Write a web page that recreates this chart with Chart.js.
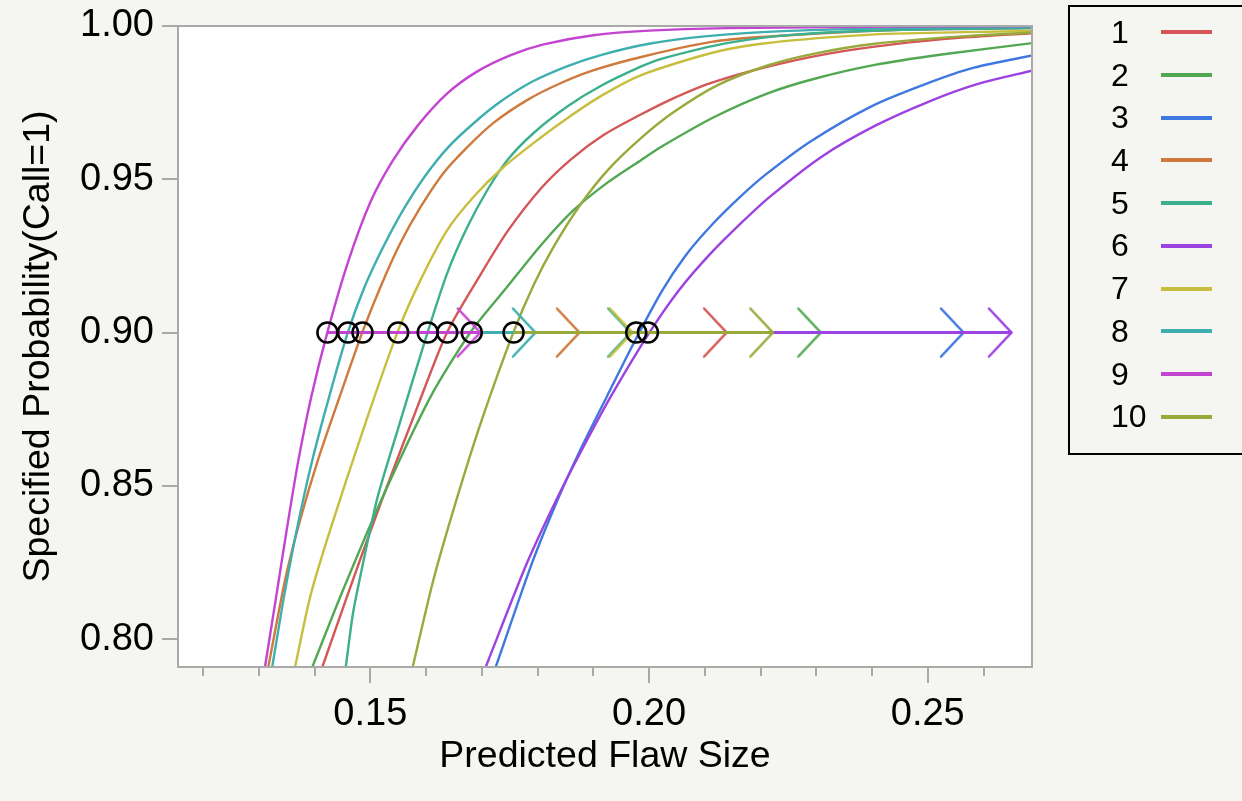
<!DOCTYPE html>
<html>
  <head>
    <title>Specified Probability vs Predicted Flaw Size</title>
    <script src="https://cdn.jsdelivr.net/npm/chart.js@4"></script>
    <style>
      body {
        margin: 0;
        background: #f5f5f1;
        overflow: hidden;
        font-family: "Liberation Sans", Arial, sans-serif;
      }
      #wrap { position: relative; width: 1242px; height: 801px; overflow: hidden; }
      #legend {
        position: absolute; left: 1068px; top: 5px;
        width: 300px; height: 442px; padding-top: 4px;
        border: 2px solid #000;
      }
      .row { position: relative; height: 42.7px; }
      .row span {
        position: absolute; left: 41px; top: 0;
        font-size: 32px; line-height: 42.7px; color: #000;
      }
      .row i { position: absolute; left: 91px; top: 19.4px; width: 51px; height: 4px; }
    </style>
  </head>
  <body>
    <div id="wrap">
      <canvas id="chart" width="1242" height="801"></canvas>
      <div id="legend"></div>
    </div>

    <script>
      // series labels
      var seriesNames = ["1", "2", "3", "4", "5", "6", "7", "8", "9", "10"];

      // probability curves (flaw size -> probability)
      var flaw1 = [0.1414, 0.1441, 0.1477, 0.1523, 0.1585, 0.1638, 0.1698, 0.1746, 0.1806, 0.1860, 0.1919, 0.1986, 0.2034, 0.2106, 0.2201, 0.2322, 0.2441, 0.2561, 0.2691];
      var prob1 = [0.7909, 0.8050, 0.8235, 0.8465, 0.8760, 0.9002, 0.9190, 0.9330, 0.9470, 0.9565, 0.9645, 0.9712, 0.9756, 0.9811, 0.9862, 0.9910, 0.9941, 0.9962, 0.9977];

      var flaw2 = [0.1396, 0.1451, 0.1522, 0.1608, 0.1680, 0.1746, 0.1806, 0.1865, 0.1926, 0.1986, 0.2022, 0.2117, 0.2214, 0.2297, 0.2405, 0.2525, 0.2691];
      var prob2 = [0.7909, 0.8160, 0.8463, 0.8790, 0.9002, 0.9150, 0.9285, 0.9400, 0.9490, 0.9563, 0.9606, 0.9703, 0.9781, 0.9828, 0.9873, 0.9907, 0.9945];

      var flaw3 = [0.1725, 0.1790, 0.1838, 0.1879, 0.1924, 0.1969, 0.2023, 0.2065, 0.2112, 0.2162, 0.2209, 0.2291, 0.2399, 0.2498, 0.2583, 0.2691];
      var prob3 = [0.7909, 0.8248, 0.8463, 0.8626, 0.8790, 0.8953, 0.9135, 0.9250, 0.9350, 0.9440, 0.9515, 0.9625, 0.9738, 0.9812, 0.9864, 0.9905];

      var flaw4 = [0.1317, 0.1347, 0.1374, 0.1406, 0.1446, 0.1486, 0.1518, 0.1554, 0.1590, 0.1631, 0.1674, 0.1721, 0.1782, 0.1842, 0.1901, 0.1986, 0.2112, 0.2201, 0.2441, 0.2691];
      var prob4 = [0.7909, 0.8192, 0.8388, 0.8584, 0.8796, 0.9002, 0.9148, 0.9292, 0.9409, 0.9520, 0.9605, 0.9684, 0.9759, 0.9814, 0.9856, 0.9899, 0.9948, 0.9964, 0.9987, 0.9993];

      var flaw5 = [0.1456, 0.1469, 0.1487, 0.1513, 0.1549, 0.1603, 0.1638, 0.1674, 0.1710, 0.1746, 0.1793, 0.1854, 0.1914, 0.1986, 0.2022, 0.2142, 0.2261, 0.2441, 0.2691];
      var prob5 = [0.7909, 0.8085, 0.8248, 0.8463, 0.8682, 0.9002, 0.9194, 0.9344, 0.9465, 0.9563, 0.9651, 0.9738, 0.9805, 0.9868, 0.9893, 0.9945, 0.9972, 0.9987, 0.9993];

      var flaw6 = [0.1707, 0.1781, 0.1836, 0.1882, 0.1931, 0.2000, 0.2054, 0.2111, 0.2165, 0.2216, 0.2309, 0.2405, 0.2500, 0.2590, 0.2691];
      var prob6 = [0.7909, 0.8248, 0.8463, 0.8626, 0.8790, 0.8998, 0.9139, 0.9259, 0.9357, 0.9442, 0.9573, 0.9674, 0.9752, 0.9811, 0.9856];

      var flaw7 = [0.1365, 0.1392, 0.1428, 0.1487, 0.1549, 0.1590, 0.1638, 0.1685, 0.1739, 0.1800, 0.1854, 0.1914, 0.1986, 0.2112, 0.2201, 0.2322, 0.2441, 0.2691];
      var prob7 = [0.7909, 0.8137, 0.8356, 0.8682, 0.9002, 0.9171, 0.9334, 0.9442, 0.9540, 0.9628, 0.9700, 0.9772, 0.9840, 0.9912, 0.9942, 0.9963, 0.9975, 0.9984];

      var flaw8 = [0.1324, 0.1344, 0.1368, 0.1396, 0.1427, 0.1460, 0.1490, 0.1522, 0.1559, 0.1598, 0.1640, 0.1690, 0.1735, 0.1790, 0.1855, 0.1915, 0.2000, 0.2100, 0.2250, 0.2450, 0.2691];
      var prob8 = [0.7909, 0.8127, 0.8356, 0.8584, 0.8796, 0.9002, 0.9150, 0.9275, 0.9400, 0.9510, 0.9605, 0.9690, 0.9755, 0.9818, 0.9870, 0.9906, 0.9942, 0.9966, 0.9984, 0.9993, 0.9997];

      var flaw9 = [0.1311, 0.1331, 0.1350, 0.1370, 0.1394, 0.1424, 0.1460, 0.1500, 0.1540, 0.1585, 0.1638, 0.1692, 0.1752, 0.1811, 0.1900, 0.2000, 0.2140, 0.2440, 0.2691];
      var prob9 = [0.7909, 0.8137, 0.8356, 0.8574, 0.8790, 0.9008, 0.9230, 0.9425, 0.9560, 0.9675, 0.9780, 0.9852, 0.9905, 0.9940, 0.9970, 0.9985, 0.9993, 0.9998, 1.0000];

      var flaw10 = [0.1576, 0.1613, 0.1656, 0.1700, 0.1757, 0.1793, 0.1829, 0.1878, 0.1926, 0.1986, 0.2045, 0.2124, 0.2214, 0.2297, 0.2405, 0.2561, 0.2691];
      var prob10 = [0.7909, 0.8192, 0.8463, 0.8715, 0.9002, 0.9155, 0.9280, 0.9420, 0.9530, 0.9635, 0.9720, 0.9808, 0.9872, 0.9910, 0.9942, 0.9966, 0.9979];

      // inverse prediction at the specified probability: estimate (circle) and upper limit (arrow)
      var probLevel = 0.9;
      var estimate90 = [0.1638, 0.1682, 0.1977, 0.1486, 0.1603, 0.1998, 0.1550, 0.1460, 0.1423, 0.1757];
      var upper90 = [0.2140, 0.2309, 0.2565, 0.1876, 0.1968, 0.2651, 0.1971, 0.1797, 0.1698, 0.2223];

      // axis ticks
      var xMajorTicks = [0.15, 0.2, 0.25];
      var xMinorTicks = [0.12, 0.13, 0.14, 0.16, 0.17, 0.18, 0.19, 0.21, 0.22, 0.23, 0.24, 0.26];
      var yTicks = [0.8, 0.85, 0.9, 0.95, 1.0];

      var colors = ["#d45656", "#52a852", "#3f78e0", "#cf7a3c", "#3cb08c", "#9c42e0",
                    "#c8be3e", "#3eaeae", "#c444d2", "#98aa3c"];

      var flaws = [flaw1, flaw2, flaw3, flaw4, flaw5, flaw6, flaw7, flaw8, flaw9, flaw10];
      var probs = [prob1, prob2, prob3, prob4, prob5, prob6, prob7, prob8, prob9, prob10];

      Chart.defaults.font.family = '"Liberation Sans", Arial, sans-serif';
      Chart.defaults.color = "#000";

      // ">" head drawn on a small canvas, tip in the middle
      function arrowHead(color) {
        var c = document.createElement("canvas");
        c.width = 52;
        c.height = 52;
        var g = c.getContext("2d");
        g.strokeStyle = color;
        g.lineWidth = 2.5;
        g.lineCap = "round";
        g.beginPath();
        g.moveTo(3, 2);
        g.lineTo(25.5, 26);
        g.lineTo(3, 50);
        g.stroke();
        return c;
      }

      var datasets = [];
      for (var k = 0; k < 10; k++) {
        datasets.push({
          label: seriesNames[k],
          data: flaws[k].map(function (x, i) { return { x: x, y: probs[this][i] }; }, k),
          showLine: true,
          borderColor: colors[k],
          borderWidth: 2.4,
          pointRadius: 0,
          tension: 0.25,
          order: 100 - k,
        });
      }
      for (var k = 0; k < 10; k++) {
        datasets.push({
          label: seriesNames[k] + " limit",
          data: [{ x: estimate90[k], y: probLevel }, { x: upper90[k], y: probLevel }],
          showLine: true,
          borderColor: colors[k],
          borderWidth: 3,
          pointStyle: ["circle", arrowHead(colors[k])],
          pointRadius: [0, 12],
          order: 50 - k,
        });
      }
      datasets.push({
        label: "estimates",
        data: estimate90.map(function (x) { return { x: x, y: probLevel }; }),
        showLine: false,
        pointStyle: "circle",
        pointRadius: 10,
        pointBorderWidth: 2.5,
        pointBorderColor: "#000",
        pointBackgroundColor: "rgba(0,0,0,0)",
        order: 0,
      });

      var plotFrame = {
        id: "plotFrame",
        beforeDraw: function (chart) {
          var a = chart.chartArea, ctx = chart.ctx;
          ctx.save();
          ctx.fillStyle = "#fff";
          ctx.fillRect(a.left, a.top, a.right - a.left, a.bottom - a.top);
          ctx.restore();
        },
        afterDraw: function (chart) {
          var a = chart.chartArea, ctx = chart.ctx, xs = chart.scales.x;
          ctx.save();
          ctx.strokeStyle = "#a9a9a9";
          ctx.lineWidth = 2;
          ctx.strokeRect(a.left, a.top, a.right - a.left, a.bottom - a.top);
          ctx.beginPath();
          xMinorTicks.forEach(function (v) {
            var px = Math.round(xs.getPixelForValue(v));
            ctx.moveTo(px, a.bottom);
            ctx.lineTo(px, a.bottom + 9);
          });
          ctx.stroke();
          ctx.restore();
        },
      };

      new Chart(document.getElementById("chart"), {
        type: "scatter",
        data: { datasets: datasets },
        plugins: [plotFrame],
        options: {
          responsive: false,
          animation: false,
          events: [],
          layout: { padding: { top: 26, right: 210, bottom: 0, left: 0 } },
          plugins: { legend: { display: false }, tooltip: { enabled: false } },
          scales: {
            x: {
              type: "linear",
              min: 0.1155,
              max: 0.2687,
              afterBuildTicks: function (s) {
                s.ticks = xMajorTicks.map(function (v) { return { value: v }; });
              },
              afterFit: function (s) { s.height = 134; },
              ticks: {
                callback: function (v) { return v.toFixed(2); },
                font: { size: 38 },
                padding: 9,
                maxRotation: 0,
                autoSkip: false,
              },
              grid: { drawOnChartArea: false, tickLength: 16, color: "#a9a9a9", lineWidth: 2 },
              border: { color: "#a9a9a9", width: 2 },
              title: {
                display: true,
                text: "Predicted Flaw Size",
                font: { size: 37.5 },
                padding: { top: 0, bottom: 22 },
              },
            },
            y: {
              type: "linear",
              min: 0.7909,
              max: 1.0,
              afterBuildTicks: function (s) {
                s.ticks = yTicks.map(function (v) { return { value: v }; });
              },
              afterFit: function (s) {
                s.width = 178;
                s.paddingTop = 0;
                s.paddingBottom = 0;
              },
              ticks: {
                callback: function (v) { return v.toFixed(2); },
                font: { size: 38 },
                padding: 8,
              },
              grid: { drawOnChartArea: false, tickLength: 16, color: "#a9a9a9", lineWidth: 2 },
              border: { color: "#a9a9a9", width: 2 },
              title: {
                display: true,
                text: "Specified Probability(Call=1)",
                font: { size: 37.5 },
                padding: { top: 16, bottom: 0 },
              },
            },
          },
        },
      });

      // legend box on the right
      var legend = document.getElementById("legend");
      seriesNames.forEach(function (name, k) {
        var row = document.createElement("div");
        row.className = "row";
        row.innerHTML = "<span>" + name + "</span><i style='background:" + colors[k] + "'></i>";
        legend.appendChild(row);
      });
    </script>
  </body>
</html>
